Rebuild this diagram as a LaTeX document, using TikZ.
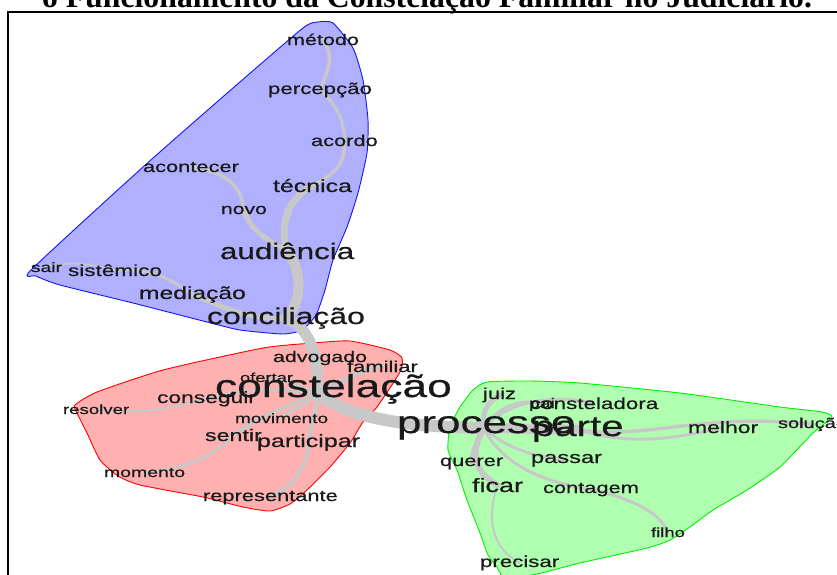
\documentclass[tikz,border=0pt]{standalone}
\usepackage{fontspec}
\newfontfamily\wf[FakeStretch=1.4,FakeBold=0.6]{Liberation Sans}
\newfontfamily\tfont{Liberation Serif}
\newcommand\wsz[1]{\wf\fontsize{#1}{#1}\selectfont}
\definecolor{bluefill}{RGB}{176,176,255}
\definecolor{blueline}{RGB}{20,20,255}
\definecolor{redfill}{RGB}{255,176,176}
\definecolor{redline}{RGB}{255,0,0}
\definecolor{greenfill}{RGB}{176,255,176}
\definecolor{greenline}{RGB}{0,240,0}
\definecolor{edgegray}{RGB}{200,200,200}
\pgfdeclarelayer{hulllayer}
\pgfdeclarelayer{edgelayer}
\pgfsetlayers{hulllayer,edgelayer,main}
\tikzset{
  word/.style={anchor=base west, inner sep=0pt, outer sep=0pt, text=black!90},
  edge/.style={draw=edgegray, line cap=round},
  hull/.style={line width=0.9pt, line join=round},
}
\begin{document}
\begin{tikzpicture}[x=1pt,y=-1pt]
\useasboundingbox (0,0) rectangle (837,574);
\clip (0,0) rectangle (837,574);

% title and frame
\node[anchor=base, inner sep=0pt, font=\tfont\bfseries\fontsize{31.75}{31.75}\selectfont] (title) at (427,7) {o Funcionamento da Constelação Familiar no Judiciário.};
\draw[line width=2.6pt] (8,580) -- (8,12) -- (845,12);

% hulls
\begin{pgfonlayer}{hulllayer}
\draw[hull, draw=blueline, fill=bluefill] plot[smooth cycle, tension=0.35] coordinates {
 (31,270) (143,167) (233,88) (303,28) (318,22) (333,23) (353,48) (363,80) (368,120)
 (367,153) (358,193) (347,227) (333,260) (325,290) (316,315) (302,330) (283,334)
 (240,330) (207,322) (133,303) (60,285) (36,276)};
\draw[hull, draw=redline, fill=redfill] plot[smooth cycle, tension=0.35] coordinates {
 (75,405) (97,392) (163,370) (263,348) (313,343) (350,341) (390,350) (402,358)
 (400,372) (377,407) (363,422) (350,443) (330,467) (307,490) (290,504) (270,511)
 (243,507) (203,497) (140,485) (118,476) (100,460) (87,433) (77,413)};
\draw[hull, draw=greenline, fill=greenfill] plot[smooth cycle, tension=0.35] coordinates {
 (487,382) (530,381) (580,383) (680,393) (780,407) (822,412) (832,417) (813,433)
 (780,467) (747,490) (713,510) (690,527) (670,540) (647,548) (580,563) (537,574)
 (505,578) (497,567) (488,555) (480,533) (467,500) (457,470) (448,450) (450,427)
 (460,407) (473,390)};
\end{pgfonlayer}

% words (blue)
\node[word, font=\wsz{15.4}] (metodo) at (287,45) {método};
\node[word, font=\wsz{15.9}] (percepcao) at (268,94) {percepção};
\node[word, font=\wsz{15.6}] (acordo) at (311,146) {acordo};
\node[word, font=\wsz{15.6}] (acontecer) at (143,172) {acontecer};
\node[word, font=\wsz{17.8}] (tecnica) at (273,192) {técnica};
\node[word, font=\wsz{15.1}] (novo) at (221,214) {novo};
\node[word, font=\wsz{22.4}] (audiencia) at (220,259) {audiência};
\node[word, font=\wsz{13.7}] (sair) at (31,272) {sair};
\node[word, font=\wsz{16.1}] (sistemico) at (68,276) {sistêmico};
\node[word, font=\wsz{17.6}] (mediacao) at (139,299) {mediação};
\node[word, font=\wsz{22.8}] (conciliacao) at (207,324) {conciliação};
% words (red)
\node[word, font=\wsz{15.3}] (advogado) at (273,362) {advogado};
\node[word, font=\wsz{15.7}] (familiar) at (347,372) {familiar};
\node[word, font=\wsz{13.1}] (ofertar) at (240,382) {ofertar};
\node[word, font=\wsz{31.7}] (constelacao) at (215,397) {constelação};
\node[word, font=\wsz{16.3}] (conseguir) at (157,403) {conseguir};
\node[word, font=\wsz{13.3}] (resolver) at (63,414) {resolver};
\node[word, font=\wsz{13.6}] (movimento) at (235,423) {movimento};
\node[word, font=\wsz{16.6}] (sentir) at (205,441) {sentir};
\node[word, font=\wsz{17.9}] (participar) at (257,447) {participar};
\node[word, font=\wsz{13.9}] (momento) at (104,477) {momento};
\node[word, font=\wsz{15.6}] (representante) at (203,501) {representante};
% words (green)
\node[word, font=\wsz{15.7}] (juiz) at (483,399) {juiz};
\node[word, font=\wsz{13.9}] (pai) at (529,408) {pai};
\node[word, font=\wsz{16.0}] (consteladora) at (530,409) {consteladora};
\node[word, font=\wsz{31.4}] (processo) at (397,433) {processo};
\node[word, font=\wsz{28.7}] (parte) at (532,436) {parte};
\node[word, font=\wsz{16.4}] (melhor) at (688,433) {melhor};
\node[word, font=\wsz{14.3}] (solucao) at (778,428) {solução};
\node[word, font=\wsz{16.9}] (passar) at (531,463) {passar};
\node[word, font=\wsz{15.6}] (querer) at (440,466) {querer};
\node[word, font=\wsz{19.3}] (ficar) at (472,492) {ficar};
\node[word, font=\wsz{15.6}] (contagem) at (543,493) {contagem};
\node[word, font=\wsz{13.2}] (filho) at (651,537) {filho};
\node[word, font=\wsz{15.9}] (precisar) at (480,567) {precisar};

% hub points of the two big words
\coordinate (hubC) at (318,395);
\coordinate (hubP) at (484,428);

% edges
\begin{pgfonlayer}{edgelayer}
% blue community
\draw[edge, line width=3.5pt] (metodo.center) .. controls (336,58) and (326,74) .. (percepcao.center);
\draw[edge, line width=3pt] (percepcao.center) .. controls (338,105) and (345,125) .. (acordo.center);
\draw[edge, line width=3.5pt] (acordo.center) .. controls (346,165) and (332,176) .. (tecnica.center);
\draw[edge, line width=7pt] (tecnica.center) .. controls (285,200) and (280,228) .. (audiencia.center);
\draw[edge, line width=3.5pt] (acontecer.center) .. controls (228,172) and (242,188) .. (novo.center);
\draw[edge, line width=5pt] (novo.center) .. controls (250,232) and (272,242) .. (audiencia.center);
\draw[edge, line width=10pt] (audiencia.center) .. controls (305,275) and (300,305) .. (conciliacao.center);
\draw[edge, line width=1.5pt] (sair.center) .. controls (70,262) and (85,262) .. (sistemico.center);
\draw[edge, line width=3pt] (sistemico.center) .. controls (150,268) and (170,278) .. (mediacao.center);
\draw[edge, line width=5pt] (mediacao.center) .. controls (225,308) and (250,320) .. (conciliacao.center);
\draw[edge, line width=11pt] (conciliacao.center) .. controls (312,330) and (318,355) .. (hubC);
% red community
\draw[edge, line width=12pt] (hubC) .. controls (345,410) and (370,426) .. (hubP);
\draw[edge, line width=4pt] (hubC) .. controls (312,375) and (312,365) .. (advogado.center);
\draw[edge, line width=4pt] (hubC) .. controls (345,378) and (365,368) .. (familiar.center);
\draw[edge, line width=3pt] (hubC) .. controls (300,385) and (280,378) .. (ofertar.center);
\draw[edge, line width=3pt] (hubC) .. controls (270,385) and (235,392) .. (conseguir.center);
\draw[edge, line width=2pt] (conseguir.center) .. controls (170,408) and (140,415) .. (resolver.center);
\draw[edge, line width=3pt] (hubC) .. controls (305,405) and (290,410) .. (movimento.center);
\draw[edge, line width=3.5pt] (hubC) .. controls (285,405) and (255,420) .. (sentir.center);
\draw[edge, line width=3pt] (sentir.center) .. controls (215,455) and (190,468) .. (momento.center);
\draw[edge, line width=4pt] (hubC) .. controls (316,415) and (310,425) .. (participar.center);
\draw[edge, line width=3.5pt] (participar.center) .. controls (308,465) and (295,485) .. (representante.center);
% green community
\draw[edge, line width=10pt] (hubP) -- (parte.center);
\draw[edge, line width=5pt] (hubP) .. controls (482,415) and (484,405) .. (juiz.center);
\draw[edge, line width=3pt] (hubP) .. controls (500,405) and (520,398) .. (pai.center);
\draw[edge, line width=3pt] (hubP) .. controls (510,398) and (560,395) .. (consteladora.center);
\draw[edge, line width=3pt] (parte.center) .. controls (630,445) and (670,440) .. (melhor.center);
\draw[edge, line width=3.5pt] (parte.center) .. controls (650,440) and (700,412) .. (solucao.center);
\draw[edge, line width=3pt] (hubP) .. controls (500,442) and (520,455) .. (passar.center);
\draw[edge, line width=3pt] (hubP) .. controls (478,440) and (470,450) .. (querer.center);
\draw[edge, line width=6pt] (hubP) .. controls (472,448) and (470,470) .. (ficar.center);
\draw[edge, line width=3pt] (hubP) .. controls (500,462) and (540,482) .. (contagem.center);
\draw[edge, line width=3pt] (contagem.center) .. controls (630,498) and (660,512) .. (filho.center);
\draw[edge, line width=2pt] (ficar.center) .. controls (486,520) and (492,548) .. (precisar.center);
\end{pgfonlayer}
\end{tikzpicture}
\end{document}
